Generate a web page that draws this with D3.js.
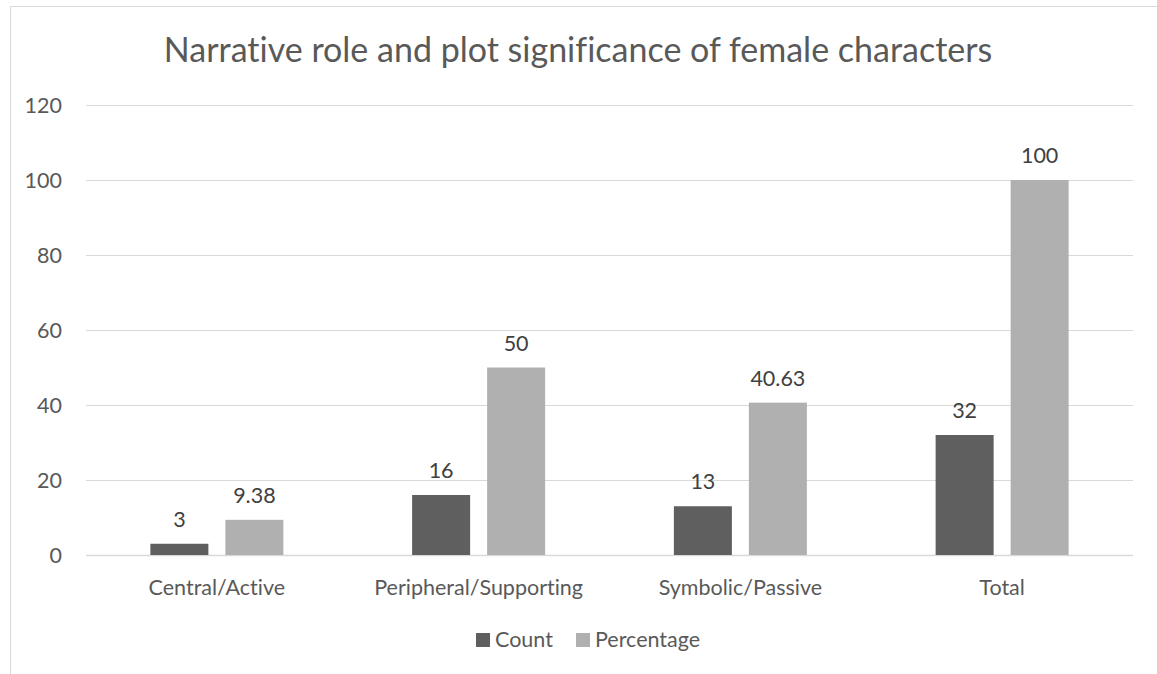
<!DOCTYPE html>
<html>
<head>
<meta charset="utf-8">
<title>Narrative role chart</title>
<style>
  body { margin: 0; background: #fff; }
  text { font-family: Lato, "Open Sans", sans-serif; font-variant-ligatures: none; }
</style>
</head>
<body>
<svg id="chart" width="1157" height="674"></svg>
<script src="https://d3js.org/d3.v7.min.js"></script>
<script>
// data
var categories = ["Central/Active", "Peripheral/Supporting", "Symbolic/Passive", "Total"];
var seriesNames = ["Count", "Percentage"];
var countValues = [3, 16, 13, 32];
var percentValues = [9.38, 50, 40.63, 100];
var yTicks = [0, 20, 40, 60, 80, 100, 120];
var colors = ["#5f5f5f", "#b0b0b0"];

var svg = d3.select("#chart");
var fs = 21.5;

// chart frame (cropped Excel-style border)
svg.append("line").attr("x1", 10.5).attr("x2", 10.5).attr("y1", 6).attr("y2", 674)
  .attr("stroke", "#d9d9d9");
svg.append("line").attr("x1", 10).attr("x2", 1157).attr("y1", 6.5).attr("y2", 6.5)
  .attr("stroke", "#d9d9d9");

var plotLeft = 86, plotRight = 1133, plotTop = 105, plotBottom = 555;

var x = d3.scaleBand().domain(categories).range([plotLeft, plotRight]);
var y = d3.scaleLinear().domain([0, 120]).range([plotBottom, plotTop]);

var barW = 58, gap = 17;
var x1 = d3.scaleOrdinal().domain(seriesNames)
  .range([-(barW + gap / 2), gap / 2]);

// gridlines
svg.append("g").selectAll("line").data(yTicks).enter().append("line")
  .attr("x1", plotLeft).attr("x2", plotRight)
  .attr("y1", function (d) { return Math.round(y(d)) + 0.5 })
  .attr("y2", function (d) { return Math.round(y(d)) + 0.5 })
  .attr("stroke", "#d9d9d9").attr("stroke-width", d => d === 0 ? 1.5 : 1);

// y labels
svg.append("g").selectAll("text").data(yTicks).enter().append("text")
  .attr("x", 62).attr("y", function (d) { return y(d) })
  .attr("dy", "0.35em").attr("text-anchor", "end")
  .attr("font-size", fs).attr("fill", "#595959")
  .text(function (d) { return d });

// bars
var rows = categories.map(function (c, i) {
  return [
    { cat: c, key: "Count", value: countValues[i], label: String(countValues[i]) },
    { cat: c, key: "Percentage", value: percentValues[i], label: String(percentValues[i]) }
  ];
});

var groups = svg.append("g").selectAll("g").data(rows).enter().append("g");

groups.selectAll("rect").data(function (d) { return d }).enter().append("rect")
  .attr("x", function (d) { return x(d.cat) + x.bandwidth() / 2 + x1(d.key) })
  .attr("width", barW)
  .attr("y", function (d) { return y(d.value) })
  .attr("height", function (d) { return y(0) - y(d.value) })
  .attr("fill", function (d, i) { return colors[i] });

groups.selectAll("text").data(function (d) { return d }).enter().append("text")
  .attr("x", function (d) { return x(d.cat) + x.bandwidth() / 2 + x1(d.key) + barW / 2 })
  .attr("y", function (d) { return y(d.value) - 17 })
  .attr("text-anchor", "middle")
  .attr("font-size", fs).attr("fill", "#404040")
  .text(function (d) { return d.label });

// x labels
svg.append("g").selectAll("text").data(categories).enter().append("text")
  .attr("x", function (d) { return x(d) + x.bandwidth() / 2 })
  .attr("y", 595)
  .attr("text-anchor", "middle")
  .attr("font-size", fs).attr("fill", "#595959")
  .text(function (d) { return d });

// title
svg.append("text")
  .attr("x", 578).attr("y", 62)
  .attr("text-anchor", "middle")
  .attr("font-size", 34).attr("fill", "#595959")
  .text("Narrative role and plot significance of female characters");

// legend
var legend = svg.append("g");
var legendX = [476, 576];
seriesNames.forEach(function (name, i) {
  legend.append("rect").attr("x", legendX[i]).attr("y", 633)
    .attr("width", 14).attr("height", 14).attr("fill", colors[i]);
  legend.append("text").attr("x", legendX[i] + 19).attr("y", 647)
    .attr("font-size", fs).attr("fill", "#595959")
    .text(name);
});
</script>
</body>
</html>
